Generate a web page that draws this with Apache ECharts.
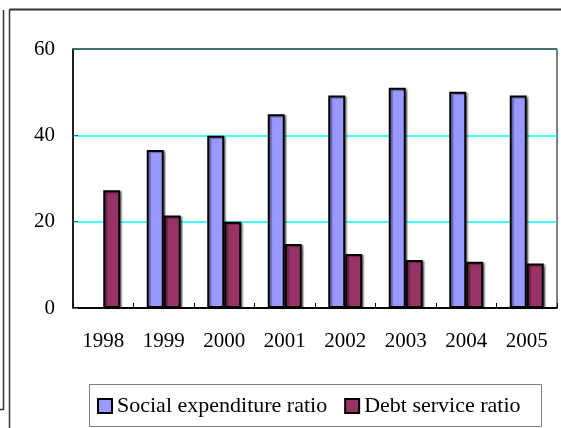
<!DOCTYPE html>
<html>
<head>
<meta charset="utf-8">
<script src="https://cdn.jsdelivr.net/npm/echarts@6/dist/echarts.min.js"></script>
<style>
html,body{margin:0;padding:0;background:#fff;}
#chart{width:561px;height:428px;}
</style>
</head>
<body>
<div id="chart"></div>
<script>
const years = ['1998','1999','2000','2001','2002','2003','2004','2005'];
const socialExpenditure = [null, 36.6, 39.9, 44.9, 49.2, 51.0, 50.1, 49.2];
const debtService = [27.3, 21.4, 20.0, 14.8, 12.5, 11.1, 10.7, 10.3];
const yTicks = [0, 20, 40, 60];

const chart = echarts.init(document.getElementById('chart'));
const serif = '"Liberation Serif", "Times New Roman", serif';
const barStyle = (c) => ({
  color: c, borderColor: '#000', borderWidth: 2,
  shadowColor: 'rgba(0,0,0,0.35)', shadowOffsetX: 2, shadowOffsetY: 1, shadowBlur: 1
});

chart.setOption({
  animation: false,
  backgroundColor: '#fff',
  grid: { left: 73, top: 49, right: 4, bottom: 120, show: true, borderColor: '#000', borderWidth: 1 },
  xAxis: {
    type: 'category', data: years,
    axisLine: { lineStyle: { color: '#000', width: 1.5 } },
    axisTick: { show: true, inside: true, length: 5, lineStyle: { color: '#000' } },
    axisLabel: { color: '#000', fontFamily: serif, fontSize: 21, margin: 23 }
  },
  yAxis: {
    type: 'value', min: yTicks[0], max: yTicks[yTicks.length - 1], interval: 20,
    axisLine: { show: true, lineStyle: { color: '#000', width: 1.5 } },
    axisTick: { show: true, inside: true, length: 5, lineStyle: { color: '#2e6e6e' } },
    axisLabel: { color: '#000', fontFamily: serif, fontSize: 21, margin: 18 },
    splitLine: { show: true, lineStyle: { color: ['#000', '#00ffff', '#00ffff', '#2e6e6e'], width: 1.5 } }
  },
  legend: {
    left: 97, top: 395, padding: 0, itemWidth: 14, itemHeight: 14, itemGap: 17, icon: 'rect',
    textStyle: { color: '#000', fontFamily: serif, fontSize: 22, padding: [0, 0, 0, 0] },
    itemStyle: { borderColor: '#000', borderWidth: 2, shadowBlur: 0, shadowOffsetX: 0, shadowOffsetY: 0, shadowColor: 'transparent' },
    data: ['Social expenditure ratio', 'Debt service ratio']
  },
  series: [
    { name: 'Social expenditure ratio', type: 'bar', data: socialExpenditure, barWidth: 17, barGap: '0%', itemStyle: barStyle('#9999ff') },
    { name: 'Debt service ratio', type: 'bar', data: debtService, barWidth: 17, barGap: '0%', itemStyle: barStyle('#993366') }
  ],
  graphic: [
    { type: 'line', shape: { x1: 9.5, y1: 9.5, x2: 561, y2: 9.5 }, style: { stroke: '#333', lineWidth: 2 } },
    { type: 'line', shape: { x1: 9.5, y1: 9.5, x2: 9.5, y2: 428 }, style: { stroke: '#333', lineWidth: 1.5 } },
    { type: 'line', shape: { x1: 3.5, y1: 10, x2: 3.5, y2: 410 }, style: { stroke: '#333', lineWidth: 1.5 } },
    { type: 'line', shape: { x1: 0, y1: 409.5, x2: 4, y2: 409.5 }, style: { stroke: '#333', lineWidth: 1.5 } },
    { type: 'rect', shape: { x: 89.5, y: 384.5, width: 452, height: 42 }, style: { fill: 'none', stroke: '#808080', lineWidth: 1 }, z: -1 }
  ]
});
</script>
</body>
</html>
